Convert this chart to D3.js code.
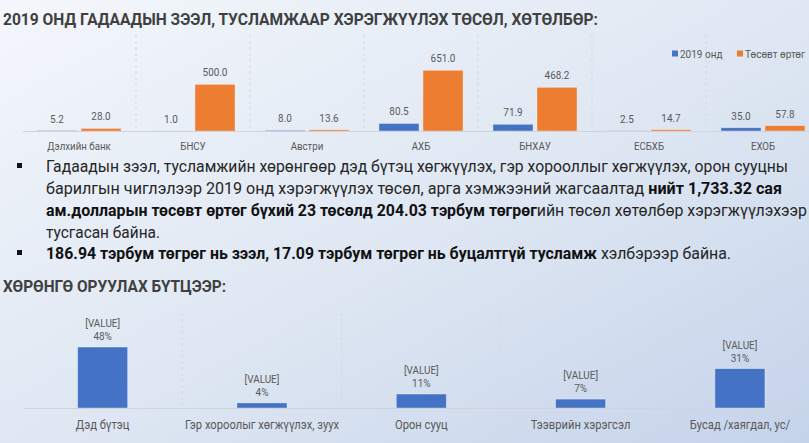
<!DOCTYPE html>
<html>
<head>
<meta charset="utf-8">
<script src="https://cdn.jsdelivr.net/npm/d3@7"></script>
<style>
  html, body { margin: 0; padding: 0; overflow: hidden; }
  svg { display: block; font-family: Roboto, "Open Sans", sans-serif; }
</style>
</head>
<body>
<div id="slide"></div>
<script>
// --- data ---
const lenders = ["Дэлхийн банк", "БНСУ", "Австри", "АХБ", "БНХАУ", "ЕСБХБ", "ЕХОБ"];
const seriesNames = ["2019 онд", "Төсөвт өртөг"];
const values2019 = [5.2, 1.0, 8.0, 80.5, 71.9, 2.5, 35.0];
const valuesBudget = [28.0, 500.0, 13.6, 651.0, 468.2, 14.7, 57.8];

const sectors = ["Дэд бүтэц", "Гэр хороолыг хөгжүүлэх, зуух", "Орон сууц", "Тээврийн хэрэгсэл", "Бусад /хаягдал, ус/"];
const sectorShares = [48, 4, 11, 7, 31];

const titleTop = "2019 ОНД ГАДААДЫН ЗЭЭЛ, ТУСЛАМЖААР ХЭРЭГЖҮҮЛЭХ ТӨСӨЛ, ХӨТӨЛБӨР:";
const titleBottom = "ХӨРӨНГӨ ОРУУЛАХ БҮТЦЭЭР:";
// each line: [text, bold]
const bodyLines = [
    [["Гадаадын зээл, тусламжийн хөрөнгөөр дэд бүтэц хөгжүүлэх, гэр хорооллыг хөгжүүлэх, орон сууцны", false]],
    [["барилгын чиглэлээр 2019 онд хэрэгжүүлэх төсөл, арга хэмжээний жагсаалтад ", false], ["нийт 1,733.32 сая", true]],
    [["ам.долларын төсөвт өртөг бүхий 23 төсөлд 204.03 тэрбум төгрөг", true], ["ийн төсөл хөтөлбөр хэрэгжүүлэхээр", false]],
    [["тусгасан байна.", false]],
    [["186.94 тэрбум төгрөг нь зээл, 17.09 тэрбум төгрөг нь буцалтгүй тусламж", true], [" хэлбэрээр байна.", false]]
];

const W = 809, H = 443;
const colors = ["#4472c4", "#ed7d31"];

const svg = d3.select("#slide")
    .append("svg")
    .attr("width", W)
    .attr("height", H);

// narrow a text a little, the slide font is condensed
function squeeze(sel, k) {
    sel.each(function () {
        const w = this.getComputedTextLength();
        d3.select(this)
            .attr("textLength", w * k)
            .attr("lengthAdjust", "spacingAndGlyphs");
    });
}

// background
const defs = svg.append("defs");
const grad = defs.append("linearGradient")
    .attr("id", "bg")
    .attr("x1", 0).attr("y1", 0)
    .attr("x2", 1).attr("y2", 1);
grad.append("stop").attr("offset", "0%").attr("stop-color", "#f4f7fc");
grad.append("stop").attr("offset", "55%").attr("stop-color", "#dde6f2");
grad.append("stop").attr("offset", "100%").attr("stop-color", "#c5d3ea");

svg.append("rect")
    .attr("width", W)
    .attr("height", H)
    .attr("fill", "url(#bg)");

// titles
svg.append("text")
    .attr("x", 3)
    .attr("y", 25)
    .attr("textLength", 595)
    .attr("lengthAdjust", "spacingAndGlyphs")
    .style("font-size", "17px")
    .style("font-weight", "bold")
    .attr("fill", "#404040")
    .text(titleTop);

svg.append("text")
    .attr("x", 3)
    .attr("y", 292)
    .attr("textLength", 223)
    .attr("lengthAdjust", "spacingAndGlyphs")
    .style("font-size", "16px")
    .style("font-weight", "bold")
    .attr("fill", "#404040")
    .text(titleBottom);

// --- top chart: grouped bars ---
const area1 = { y0: 131, y1: 35 };
const x0 = d3.scaleBand()
    .domain(lenders)
    .range([22, 820]);

const x1 = d3.scaleBand()
    .domain(seriesNames)
    .range([0, x0.bandwidth()])
    .paddingInner(0.09)
    .paddingOuter(0.34);

const y = d3.scaleLinear()
    .domain([0, 700])
    .range([area1.y0, 65.7]);

const g1 = svg.append("g");

// separators
g1.selectAll(".sep")
    .data(lenders.slice(1))
    .enter()
    .append("line")
    .attr("x1", d => x0(d))
    .attr("x2", d => x0(d))
    .attr("y1", area1.y1)
    .attr("y2", area1.y0)
    .attr("stroke", "#d3d9e2")
    .attr("stroke-dasharray", "3,3");

const rows = lenders.map((c, i) => ({ cat: c, vals: [values2019[i], valuesBudget[i]] }));

const groups = g1.selectAll(".grp")
    .data(rows)
    .enter()
    .append("g")
    .attr("transform", d => `translate(${x0(d.cat)},0)`);

groups.selectAll("rect")
    .data(d => d.vals.map((v, k) => ({ s: seriesNames[k], v, k })))
    .enter()
    .append("rect")
    .attr("x", d => x1(d.s))
    .attr("y", d => y(d.v))
    .attr("width", x1.bandwidth())
    .attr("height", d => area1.y0 - y(d.v))
    .attr("fill", d => colors[d.k])
    .attr("stroke", "rgba(255,255,255,0.45)")
    .attr("stroke-width", 0.8);

groups.selectAll("text")
    .data(d => d.vals.map((v, k) => ({ s: seriesNames[k], v, k })))
    .enter()
    .append("text")
    .attr("x", d => x1(d.s) + x1.bandwidth() / 2)
    .attr("y", d => y(d.v) - 8)
    .attr("text-anchor", "middle")
    .style("font-size", "11px")
    .attr("fill", "#595959")
    .text(d => d3.format(".1f")(d.v))
    .call(squeeze, 0.9);

// axis line + category labels
const ax1 = g1.append("g")
    .attr("transform", `translate(0,${area1.y0})`)
    .call(d3.axisBottom(x0).tickSize(0).tickPadding(11));
ax1.select(".domain").attr("stroke", "#d0d4da");
ax1.selectAll("text")
    .style("font-family", "Roboto, sans-serif")
    .style("font-size", "11px")
    .attr("fill", "#595959")
    .call(squeeze, 0.88);

// legend
const legend = svg.append("g").attr("transform", "translate(672,54)");
const legX = [0, 65];
seriesNames.forEach((s, k) => {
    legend.append("rect")
        .attr("x", legX[k])
        .attr("y", -3.5)
        .attr("width", 6)
        .attr("height", 6)
        .attr("fill", colors[k]);
    legend.append("text")
        .attr("x", legX[k] + 8)
        .attr("y", 3.5)
        .style("font-size", "10px")
        .attr("fill", "#595959")
        .text(s);
});

// --- body text ---
const lineY = [172, 194, 216, 238, 259];
const lineLen = [742, 736, 761, 114, 685];
bodyLines.forEach((segs, i) => {
    const t = svg.append("text")
        .attr("x", 46)
        .attr("y", lineY[i])
        .attr("textLength", lineLen[i])
        .attr("lengthAdjust", "spacingAndGlyphs")
        .style("font-size", "16px")
        .attr("fill", "#262626");
    segs.forEach(([txt, b]) => {
        t.append("tspan")
            .style("font-weight", b ? "bold" : "normal")
            .attr("fill", b ? "#111" : "#262626")
            .text(txt);
    });
});
[0, 4].forEach(i => {
    svg.append("rect")
        .attr("x", 17)
        .attr("y", lineY[i] - 9)
        .attr("width", 5)
        .attr("height", 5)
        .attr("fill", "#111");
});

// --- bottom chart ---
const area2 = { y0: 408, y1: 313 };
const xs = d3.scaleBand()
    .domain(sectors)
    .range([23, 819.6])
    .paddingInner(0.686)
    .paddingOuter(0.343);

const ys = d3.scaleLinear()
    .domain([0, 50])
    .range([area2.y0, 344.5]);

const g2 = svg.append("g");

g2.selectAll(".sep")
    .data(sectors.slice(1))
    .enter()
    .append("line")
    .attr("x1", d => xs(d) - (xs.step() - xs.bandwidth()) / 2)
    .attr("x2", d => xs(d) - (xs.step() - xs.bandwidth()) / 2)
    .attr("y1", area2.y1)
    .attr("y2", area2.y0)
    .attr("stroke", "#d3d9e2")
    .attr("stroke-dasharray", "3,3");

g2.selectAll("rect")
    .data(sectorShares)
    .enter()
    .append("rect")
    .attr("x", (d, i) => xs(sectors[i]))
    .attr("y", d => ys(d))
    .attr("width", xs.bandwidth())
    .attr("height", d => area2.y0 - ys(d))
    .attr("fill", colors[0])
    .attr("stroke", "rgba(255,255,255,0.45)")
    .attr("stroke-width", 0.8);

const lab = g2.selectAll(".lab")
    .data(sectorShares)
    .enter()
    .append("g")
    .attr("transform", (d, i) => `translate(${xs(sectors[i]) + xs.bandwidth() / 2},${ys(d)})`);
lab.append("text")
    .attr("y", -20)
    .attr("text-anchor", "middle")
    .style("font-size", "11px")
    .attr("fill", "#595959")
    .text("[VALUE]")
    .call(squeeze, 0.9);
lab.append("text")
    .attr("y", -7)
    .attr("text-anchor", "middle")
    .style("font-size", "11px")
    .attr("fill", "#595959")
    .text(d => d + "%")
    .call(squeeze, 0.9);

const ax2 = g2.append("g")
    .attr("transform", `translate(0,${area2.y0})`)
    .call(d3.axisBottom(xs).tickSize(0).tickPadding(12));
ax2.select(".domain").attr("stroke", "#d0d4da");
ax2.selectAll("text")
    .style("font-family", "Roboto, sans-serif")
    .style("font-size", "13px")
    .attr("fill", "#595959")
    .call(squeeze, 0.86);
</script>
</body>
</html>
